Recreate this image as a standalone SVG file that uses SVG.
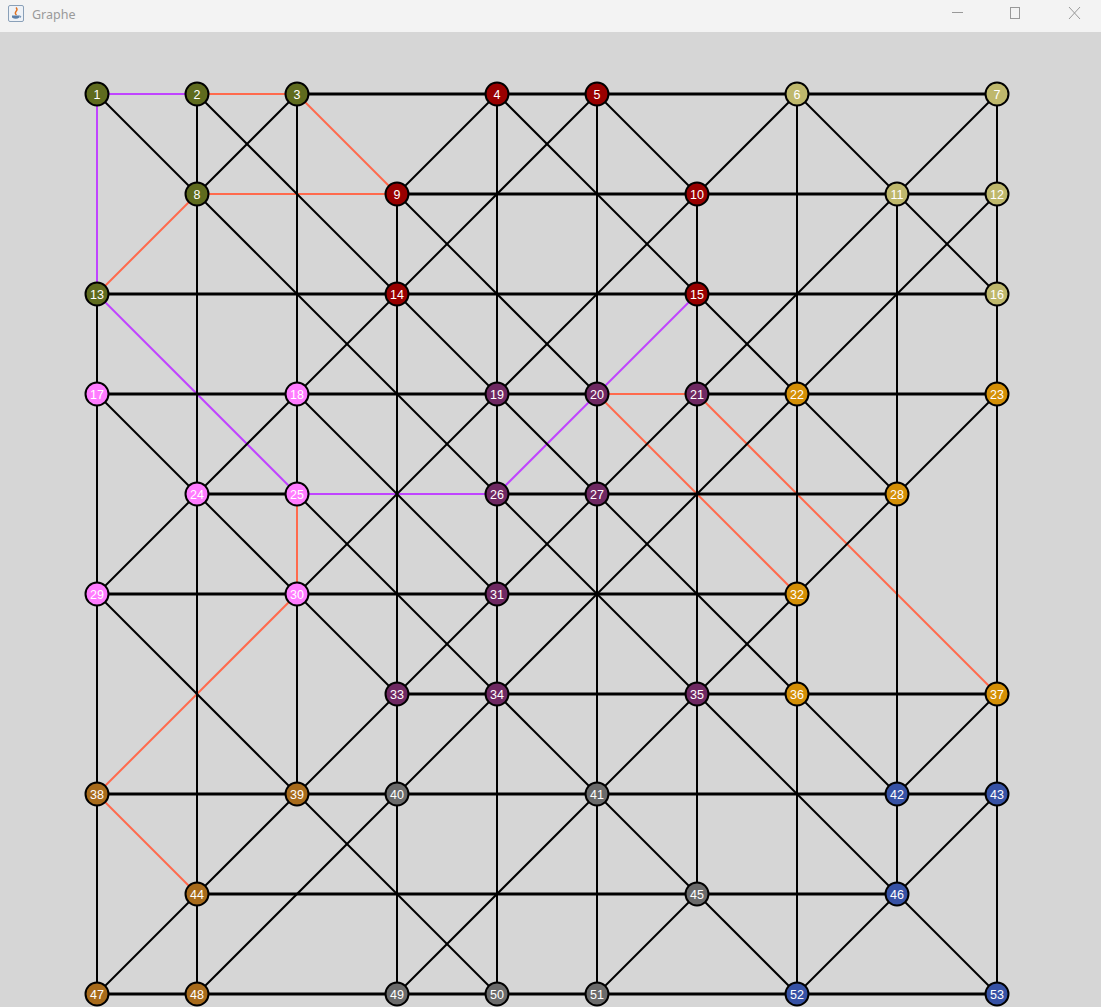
<svg xmlns="http://www.w3.org/2000/svg" width="1101" height="1007" viewBox="0 0 1101 1007">
<style>
.k{stroke:#000;stroke-width:2;fill:none}
.h{stroke-width:3}
.p{stroke:#c044ff;stroke-width:2;fill:none}
.o{stroke:#ff6a4d;stroke-width:2;fill:none}
.n circle{stroke:#000;stroke-width:2}
.n text{fill:#fff;font-family:"Liberation Sans",Arial,sans-serif;font-size:12.5px;text-anchor:middle}
.c1 circle{fill:#5f6b1e}.c2 circle{fill:#990000}.c3 circle{fill:#bfb86c}
.c4 circle{fill:#ff7cff}.c5 circle{fill:#6f2862}.c6 circle{fill:#d48f05}
.c7 circle{fill:#a86b1b}.c8 circle{fill:#6b6b6b}.c9 circle{fill:#3752a5}
.wc{stroke:#999;stroke-width:1;fill:none}
</style>
<rect x="0" y="0" width="1101" height="1007" fill="#d6d6d6"/>
<g id="titlebar">
<rect x="0" y="0" width="1101" height="32" fill="#f3f3f3"/>
<rect x="8.5" y="5.5" width="15" height="16" rx="1.5" fill="#eef2f7" stroke="#8aa0b8"/>
<path d="M16 7.5 q2 2 0 4 q-1.5 2 0.5 3.5" stroke="#e07020" stroke-width="1.4" fill="none"/>
<path d="M12 15.5 h7.5 v2 q-3.7 2.5 -7.5 0 z" fill="#5b7fa8"/>
<path d="M19.5 16 q2 0 1 1.5" stroke="#5b7fa8" stroke-width="1" fill="none"/>
<text x="32" y="19" font-family="'Noto Sans','Open Sans',sans-serif" font-size="12.5" fill="#9a9a9a">Graphe</text>
<line class="wc" x1="952" y1="12.5" x2="963" y2="12.5"/>
<rect class="wc" x="1010.5" y="7.5" width="9" height="11"/>
<line class="wc" x1="1069" y1="7" x2="1080" y2="19"/>
<line class="wc" x1="1080" y1="7" x2="1069" y2="19"/>
</g>
<g id="connectors">
<line class="p" x1="97" y1="94" x2="197" y2="94"/>
<line class="p" x1="97" y1="94" x2="97" y2="294"/>
<line class="p" x1="97" y1="294" x2="297" y2="494"/>
<line class="p" x1="297" y1="494" x2="497" y2="494"/>
<line class="p" x1="497" y1="494" x2="597" y2="394"/>
<line class="p" x1="597" y1="394" x2="697" y2="294"/>
<line class="o" x1="197" y1="94" x2="297" y2="94"/>
<line class="o" x1="297" y1="94" x2="397" y2="194"/>
<line class="o" x1="197" y1="194" x2="397" y2="194"/>
<line class="o" x1="197" y1="194" x2="97" y2="294"/>
<line class="o" x1="297" y1="494" x2="297" y2="594"/>
<line class="o" x1="297" y1="594" x2="97" y2="794"/>
<line class="o" x1="97" y1="794" x2="197" y2="894"/>
<line class="o" x1="597" y1="394" x2="697" y2="394"/>
<line class="o" x1="597" y1="394" x2="797" y2="594"/>
<line class="o" x1="697" y1="394" x2="997" y2="694"/>
<line class="k h" x1="297" y1="94" x2="497" y2="94"/>
<line class="k h" x1="497" y1="94" x2="597" y2="94"/>
<line class="k h" x1="597" y1="94" x2="797" y2="94"/>
<line class="k h" x1="797" y1="94" x2="997" y2="94"/>
<line class="k h" x1="397" y1="194" x2="697" y2="194"/>
<line class="k h" x1="697" y1="194" x2="897" y2="194"/>
<line class="k h" x1="897" y1="194" x2="997" y2="194"/>
<line class="k h" x1="97" y1="294" x2="397" y2="294"/>
<line class="k h" x1="397" y1="294" x2="697" y2="294"/>
<line class="k h" x1="697" y1="294" x2="997" y2="294"/>
<line class="k h" x1="97" y1="394" x2="297" y2="394"/>
<line class="k h" x1="297" y1="394" x2="497" y2="394"/>
<line class="k h" x1="497" y1="394" x2="597" y2="394"/>
<line class="k h" x1="697" y1="394" x2="797" y2="394"/>
<line class="k h" x1="797" y1="394" x2="997" y2="394"/>
<line class="k h" x1="197" y1="494" x2="297" y2="494"/>
<line class="k h" x1="497" y1="494" x2="597" y2="494"/>
<line class="k h" x1="597" y1="494" x2="897" y2="494"/>
<line class="k h" x1="97" y1="594" x2="297" y2="594"/>
<line class="k h" x1="297" y1="594" x2="497" y2="594"/>
<line class="k h" x1="497" y1="594" x2="797" y2="594"/>
<line class="k h" x1="397" y1="694" x2="497" y2="694"/>
<line class="k h" x1="497" y1="694" x2="697" y2="694"/>
<line class="k h" x1="697" y1="694" x2="797" y2="694"/>
<line class="k h" x1="797" y1="694" x2="997" y2="694"/>
<line class="k h" x1="97" y1="794" x2="297" y2="794"/>
<line class="k h" x1="297" y1="794" x2="397" y2="794"/>
<line class="k h" x1="397" y1="794" x2="597" y2="794"/>
<line class="k h" x1="597" y1="794" x2="897" y2="794"/>
<line class="k h" x1="897" y1="794" x2="997" y2="794"/>
<line class="k h" x1="197" y1="894" x2="697" y2="894"/>
<line class="k h" x1="697" y1="894" x2="897" y2="894"/>
<line class="k h" x1="97" y1="994" x2="197" y2="994"/>
<line class="k h" x1="197" y1="994" x2="397" y2="994"/>
<line class="k h" x1="397" y1="994" x2="497" y2="994"/>
<line class="k h" x1="497" y1="994" x2="597" y2="994"/>
<line class="k h" x1="597" y1="994" x2="797" y2="994"/>
<line class="k h" x1="797" y1="994" x2="997" y2="994"/>
<line class="k" x1="97" y1="294" x2="97" y2="394"/>
<line class="k" x1="97" y1="394" x2="97" y2="594"/>
<line class="k" x1="97" y1="594" x2="97" y2="794"/>
<line class="k" x1="97" y1="794" x2="97" y2="994"/>
<line class="k" x1="197" y1="94" x2="197" y2="194"/>
<line class="k" x1="197" y1="194" x2="197" y2="494"/>
<line class="k" x1="197" y1="494" x2="197" y2="894"/>
<line class="k" x1="197" y1="894" x2="197" y2="994"/>
<line class="k" x1="297" y1="94" x2="297" y2="394"/>
<line class="k" x1="297" y1="394" x2="297" y2="494"/>
<line class="k" x1="297" y1="594" x2="297" y2="794"/>
<line class="k" x1="397" y1="194" x2="397" y2="294"/>
<line class="k" x1="397" y1="294" x2="397" y2="694"/>
<line class="k" x1="397" y1="694" x2="397" y2="794"/>
<line class="k" x1="397" y1="794" x2="397" y2="994"/>
<line class="k" x1="497" y1="94" x2="497" y2="394"/>
<line class="k" x1="497" y1="394" x2="497" y2="494"/>
<line class="k" x1="497" y1="494" x2="497" y2="594"/>
<line class="k" x1="497" y1="594" x2="497" y2="694"/>
<line class="k" x1="497" y1="694" x2="497" y2="994"/>
<line class="k" x1="597" y1="94" x2="597" y2="394"/>
<line class="k" x1="597" y1="394" x2="597" y2="494"/>
<line class="k" x1="597" y1="494" x2="597" y2="794"/>
<line class="k" x1="597" y1="794" x2="597" y2="994"/>
<line class="k" x1="697" y1="194" x2="697" y2="294"/>
<line class="k" x1="697" y1="294" x2="697" y2="394"/>
<line class="k" x1="697" y1="394" x2="697" y2="694"/>
<line class="k" x1="697" y1="694" x2="697" y2="894"/>
<line class="k" x1="797" y1="94" x2="797" y2="394"/>
<line class="k" x1="797" y1="394" x2="797" y2="594"/>
<line class="k" x1="797" y1="594" x2="797" y2="694"/>
<line class="k" x1="797" y1="694" x2="797" y2="994"/>
<line class="k" x1="897" y1="194" x2="897" y2="494"/>
<line class="k" x1="897" y1="494" x2="897" y2="794"/>
<line class="k" x1="897" y1="794" x2="897" y2="894"/>
<line class="k" x1="997" y1="94" x2="997" y2="194"/>
<line class="k" x1="997" y1="194" x2="997" y2="294"/>
<line class="k" x1="997" y1="294" x2="997" y2="394"/>
<line class="k" x1="997" y1="394" x2="997" y2="694"/>
<line class="k" x1="997" y1="694" x2="997" y2="794"/>
<line class="k" x1="997" y1="794" x2="997" y2="994"/>
<line class="k" x1="97" y1="94" x2="197" y2="194"/>
<line class="k" x1="197" y1="194" x2="497" y2="494"/>
<line class="k" x1="497" y1="494" x2="697" y2="694"/>
<line class="k" x1="697" y1="694" x2="897" y2="894"/>
<line class="k" x1="897" y1="894" x2="997" y2="994"/>
<line class="k" x1="197" y1="94" x2="397" y2="294"/>
<line class="k" x1="397" y1="294" x2="497" y2="394"/>
<line class="k" x1="497" y1="394" x2="597" y2="494"/>
<line class="k" x1="597" y1="494" x2="797" y2="694"/>
<line class="k" x1="797" y1="694" x2="897" y2="794"/>
<line class="k" x1="397" y1="194" x2="597" y2="394"/>
<line class="k" x1="497" y1="94" x2="697" y2="294"/>
<line class="k" x1="697" y1="294" x2="797" y2="394"/>
<line class="k" x1="797" y1="394" x2="897" y2="494"/>
<line class="k" x1="597" y1="94" x2="697" y2="194"/>
<line class="k" x1="797" y1="94" x2="897" y2="194"/>
<line class="k" x1="897" y1="194" x2="997" y2="294"/>
<line class="k" x1="297" y1="394" x2="497" y2="594"/>
<line class="k" x1="297" y1="494" x2="497" y2="694"/>
<line class="k" x1="497" y1="694" x2="597" y2="794"/>
<line class="k" x1="597" y1="794" x2="697" y2="894"/>
<line class="k" x1="697" y1="894" x2="797" y2="994"/>
<line class="k" x1="97" y1="394" x2="197" y2="494"/>
<line class="k" x1="197" y1="494" x2="297" y2="594"/>
<line class="k" x1="297" y1="594" x2="397" y2="694"/>
<line class="k" x1="97" y1="594" x2="297" y2="794"/>
<line class="k" x1="297" y1="794" x2="497" y2="994"/>
<line class="k" x1="297" y1="94" x2="197" y2="194"/>
<line class="k" x1="497" y1="94" x2="397" y2="194"/>
<line class="k" x1="597" y1="94" x2="397" y2="294"/>
<line class="k" x1="397" y1="294" x2="297" y2="394"/>
<line class="k" x1="297" y1="394" x2="197" y2="494"/>
<line class="k" x1="197" y1="494" x2="97" y2="594"/>
<line class="k" x1="797" y1="94" x2="697" y2="194"/>
<line class="k" x1="697" y1="194" x2="497" y2="394"/>
<line class="k" x1="497" y1="394" x2="297" y2="594"/>
<line class="k" x1="997" y1="94" x2="897" y2="194"/>
<line class="k" x1="897" y1="194" x2="697" y2="394"/>
<line class="k" x1="697" y1="394" x2="597" y2="494"/>
<line class="k" x1="597" y1="494" x2="497" y2="594"/>
<line class="k" x1="497" y1="594" x2="397" y2="694"/>
<line class="k" x1="397" y1="694" x2="297" y2="794"/>
<line class="k" x1="297" y1="794" x2="197" y2="894"/>
<line class="k" x1="197" y1="894" x2="97" y2="994"/>
<line class="k" x1="997" y1="194" x2="797" y2="394"/>
<line class="k" x1="797" y1="394" x2="497" y2="694"/>
<line class="k" x1="497" y1="694" x2="397" y2="794"/>
<line class="k" x1="397" y1="794" x2="197" y2="994"/>
<line class="k" x1="997" y1="394" x2="897" y2="494"/>
<line class="k" x1="897" y1="494" x2="797" y2="594"/>
<line class="k" x1="797" y1="594" x2="697" y2="694"/>
<line class="k" x1="697" y1="694" x2="597" y2="794"/>
<line class="k" x1="597" y1="794" x2="397" y2="994"/>
<line class="k" x1="697" y1="894" x2="597" y2="994"/>
<line class="k" x1="997" y1="694" x2="897" y2="794"/>
<line class="k" x1="997" y1="794" x2="897" y2="894"/>
<line class="k" x1="897" y1="894" x2="797" y2="994"/>
</g>
<g id="node1" class="n c1"><circle cx="97" cy="94" r="11.5"/><text x="97" y="98.5">1</text></g>
<g id="node2" class="n c1"><circle cx="197" cy="94" r="11.5"/><text x="197" y="98.5">2</text></g>
<g id="node3" class="n c1"><circle cx="297" cy="94" r="11.5"/><text x="297" y="98.5">3</text></g>
<g id="node4" class="n c2"><circle cx="497" cy="94" r="11.5"/><text x="497" y="98.5">4</text></g>
<g id="node5" class="n c2"><circle cx="597" cy="94" r="11.5"/><text x="597" y="98.5">5</text></g>
<g id="node6" class="n c3"><circle cx="797" cy="94" r="11.5"/><text x="797" y="98.5">6</text></g>
<g id="node7" class="n c3"><circle cx="997" cy="94" r="11.5"/><text x="997" y="98.5">7</text></g>
<g id="node8" class="n c1"><circle cx="197" cy="194" r="11.5"/><text x="197" y="198.5">8</text></g>
<g id="node9" class="n c2"><circle cx="397" cy="194" r="11.5"/><text x="397" y="198.5">9</text></g>
<g id="node10" class="n c2"><circle cx="697" cy="194" r="11.5"/><text x="697" y="198.5">10</text></g>
<g id="node11" class="n c3"><circle cx="897" cy="194" r="11.5"/><text x="897" y="198.5">11</text></g>
<g id="node12" class="n c3"><circle cx="997" cy="194" r="11.5"/><text x="997" y="198.5">12</text></g>
<g id="node13" class="n c1"><circle cx="97" cy="294" r="11.5"/><text x="97" y="298.5">13</text></g>
<g id="node14" class="n c2"><circle cx="397" cy="294" r="11.5"/><text x="397" y="298.5">14</text></g>
<g id="node15" class="n c2"><circle cx="697" cy="294" r="11.5"/><text x="697" y="298.5">15</text></g>
<g id="node16" class="n c3"><circle cx="997" cy="294" r="11.5"/><text x="997" y="298.5">16</text></g>
<g id="node17" class="n c4"><circle cx="97" cy="394" r="11.5"/><text x="97" y="398.5">17</text></g>
<g id="node18" class="n c4"><circle cx="297" cy="394" r="11.5"/><text x="297" y="398.5">18</text></g>
<g id="node19" class="n c5"><circle cx="497" cy="394" r="11.5"/><text x="497" y="398.5">19</text></g>
<g id="node20" class="n c5"><circle cx="597" cy="394" r="11.5"/><text x="597" y="398.5">20</text></g>
<g id="node21" class="n c5"><circle cx="697" cy="394" r="11.5"/><text x="697" y="398.5">21</text></g>
<g id="node22" class="n c6"><circle cx="797" cy="394" r="11.5"/><text x="797" y="398.5">22</text></g>
<g id="node23" class="n c6"><circle cx="997" cy="394" r="11.5"/><text x="997" y="398.5">23</text></g>
<g id="node24" class="n c4"><circle cx="197" cy="494" r="11.5"/><text x="197" y="498.5">24</text></g>
<g id="node25" class="n c4"><circle cx="297" cy="494" r="11.5"/><text x="297" y="498.5">25</text></g>
<g id="node26" class="n c5"><circle cx="497" cy="494" r="11.5"/><text x="497" y="498.5">26</text></g>
<g id="node27" class="n c5"><circle cx="597" cy="494" r="11.5"/><text x="597" y="498.5">27</text></g>
<g id="node28" class="n c6"><circle cx="897" cy="494" r="11.5"/><text x="897" y="498.5">28</text></g>
<g id="node29" class="n c4"><circle cx="97" cy="594" r="11.5"/><text x="97" y="598.5">29</text></g>
<g id="node30" class="n c4"><circle cx="297" cy="594" r="11.5"/><text x="297" y="598.5">30</text></g>
<g id="node31" class="n c5"><circle cx="497" cy="594" r="11.5"/><text x="497" y="598.5">31</text></g>
<g id="node32" class="n c6"><circle cx="797" cy="594" r="11.5"/><text x="797" y="598.5">32</text></g>
<g id="node33" class="n c5"><circle cx="397" cy="694" r="11.5"/><text x="397" y="698.5">33</text></g>
<g id="node34" class="n c5"><circle cx="497" cy="694" r="11.5"/><text x="497" y="698.5">34</text></g>
<g id="node35" class="n c5"><circle cx="697" cy="694" r="11.5"/><text x="697" y="698.5">35</text></g>
<g id="node36" class="n c6"><circle cx="797" cy="694" r="11.5"/><text x="797" y="698.5">36</text></g>
<g id="node37" class="n c6"><circle cx="997" cy="694" r="11.5"/><text x="997" y="698.5">37</text></g>
<g id="node38" class="n c7"><circle cx="97" cy="794" r="11.5"/><text x="97" y="798.5">38</text></g>
<g id="node39" class="n c7"><circle cx="297" cy="794" r="11.5"/><text x="297" y="798.5">39</text></g>
<g id="node40" class="n c8"><circle cx="397" cy="794" r="11.5"/><text x="397" y="798.5">40</text></g>
<g id="node41" class="n c8"><circle cx="597" cy="794" r="11.5"/><text x="597" y="798.5">41</text></g>
<g id="node42" class="n c9"><circle cx="897" cy="794" r="11.5"/><text x="897" y="798.5">42</text></g>
<g id="node43" class="n c9"><circle cx="997" cy="794" r="11.5"/><text x="997" y="798.5">43</text></g>
<g id="node44" class="n c7"><circle cx="197" cy="894" r="11.5"/><text x="197" y="898.5">44</text></g>
<g id="node45" class="n c8"><circle cx="697" cy="894" r="11.5"/><text x="697" y="898.5">45</text></g>
<g id="node46" class="n c9"><circle cx="897" cy="894" r="11.5"/><text x="897" y="898.5">46</text></g>
<g id="node47" class="n c7"><circle cx="97" cy="994" r="11.5"/><text x="97" y="998.5">47</text></g>
<g id="node48" class="n c7"><circle cx="197" cy="994" r="11.5"/><text x="197" y="998.5">48</text></g>
<g id="node49" class="n c8"><circle cx="397" cy="994" r="11.5"/><text x="397" y="998.5">49</text></g>
<g id="node50" class="n c8"><circle cx="497" cy="994" r="11.5"/><text x="497" y="998.5">50</text></g>
<g id="node51" class="n c8"><circle cx="597" cy="994" r="11.5"/><text x="597" y="998.5">51</text></g>
<g id="node52" class="n c9"><circle cx="797" cy="994" r="11.5"/><text x="797" y="998.5">52</text></g>
<g id="node53" class="n c9"><circle cx="997" cy="994" r="11.5"/><text x="997" y="998.5">53</text></g>
</svg>
